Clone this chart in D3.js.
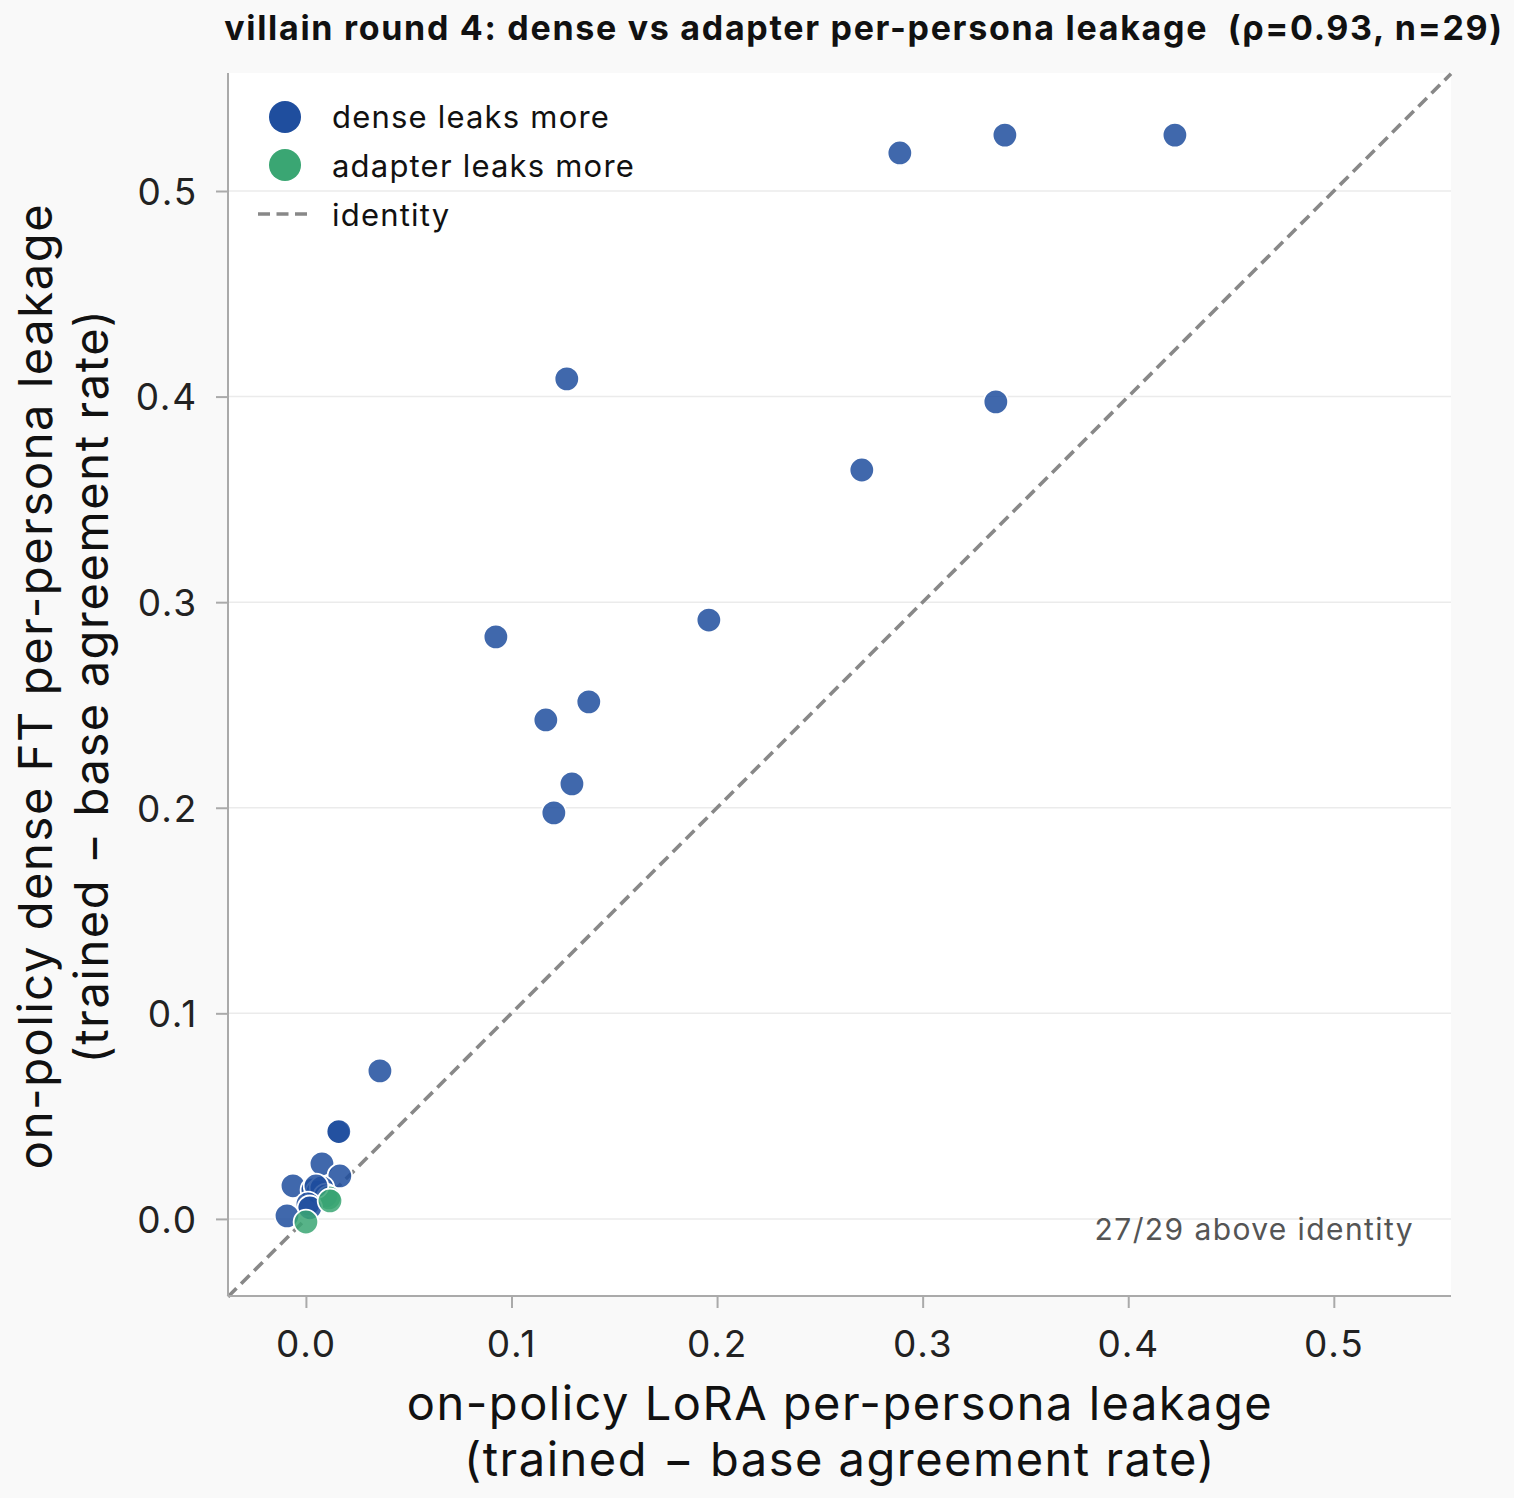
<!DOCTYPE html>
<html><head><meta charset="utf-8">
<script src="https://cdn.jsdelivr.net/npm/d3@7"></script>
<style>
html,body{margin:0;padding:0;background:#f9f9f9;}
text{font-family:Inter,"Noto Sans",sans-serif;}
</style></head>
<body><svg id="chart" width="1514" height="1498"></svg>
<script>
// LoRA (adapter) leakage per persona
const loraLeak = [0.4227,0.3400,0.2889,0.1269,0.3356,0.2704,0.1960,0.0924,0.1376,0.1167,0.1294,0.1206,0.0360,
  0.0156,0.0160,0.0078,0.0165,-0.0063,0.0034,0.0058,0.0078,0.0097,0.0112,0.0049,0.0010,0.0019,-0.0092,
  0.0117,0.0000];
// dense FT leakage per persona
const denseLeak = [0.5272,0.5272,0.5185,0.4086,0.3974,0.3643,0.2913,0.2831,0.2515,0.2427,0.2116,0.1975,0.0720,
  0.0423,0.0425,0.0268,0.0209,0.0161,0.0141,0.0131,0.0151,0.0112,0.0102,0.0160,0.0073,0.0054,0.0015,
  0.0088,-0.0015];
const xTicks = [0.0,0.1,0.2,0.3,0.4,0.5];
const yTicks = [0.0,0.1,0.2,0.3,0.4,0.5];
const legendLabels = ["dense leaks more","adapter leaks more","identity"];
const titleText = "villain round 4: dense vs adapter per-persona leakage  (\u03c1=0.93, n=29)";
const annotText = "27/29 above identity";

const colDense = "#1f4e9e", colAdapter = "#3aa673";
const svg = d3.select("#chart");
const L=228,R=1451,T=73,B=1296;
const x = d3.scaleLinear().domain([-0.0379,0.5570]).range([L,R]);
const y = d3.scaleLinear().domain([-0.0375,0.5574]).range([B,T]);

svg.append("rect").attr("x",0).attr("y",0).attr("width",1514).attr("height",1498).attr("fill","#f9f9f9");
svg.append("rect").attr("x",L).attr("y",T).attr("width",R-L).attr("height",B-T).attr("fill","#ffffff");

// grid
svg.append("g").selectAll("line").data(yTicks).join("line")
  .attr("x1",L).attr("x2",R).attr("y1",d=>y(d)).attr("y2",d=>y(d))
  .attr("stroke","#ebebeb").attr("stroke-width",1.5);

// identity
const lo = -0.0379, hi = 0.5570;
svg.append("line").attr("x1",x(lo)).attr("y1",y(lo)).attr("x2",x(hi)).attr("y2",y(hi))
  .attr("stroke","#888").attr("stroke-width",3.6).attr("stroke-dasharray","12,6.5");

// axes
const xAxis = svg.append("g").attr("transform",`translate(0,${B})`)
  .call(d3.axisBottom(x).tickValues(xTicks).tickFormat(d3.format(".1f")).tickSize(12).tickPadding(23));
const yAxis = svg.append("g").attr("transform",`translate(${L},0)`)
  .call(d3.axisLeft(y).tickValues(yTicks).tickFormat(d3.format(".1f")).tickSize(12).tickPadding(18));
[xAxis,yAxis].forEach(g=>{
  g.select(".domain").attr("stroke","#aaa").attr("stroke-width",2);
  g.selectAll(".tick line").attr("stroke","#aaa").attr("stroke-width",2);
  g.selectAll(".tick text").attr("font-size",37).attr("letter-spacing",1.8).attr("fill","#222").attr("font-family","Inter");
});
yAxis.selectAll(".tick text").attr("dy","0.36em");
xAxis.select(".domain").attr("d",`M${L},0H${R}`);
yAxis.select(".domain").attr("d",`M0,${B}V${T}`);

// points
const pts = loraLeak.map((v,i)=>({x:v,y:denseLeak[i]}));
svg.append("g").selectAll("circle").data(pts).join("circle")
  .attr("cx",d=>x(d.x)).attr("cy",d=>y(d.y)).attr("r",12.3)
  .attr("fill",d=>d.y>d.x?colDense:colAdapter).attr("fill-opacity",0.85)
  .attr("stroke","#fff").attr("stroke-width",1.8);

// legend
const lg = svg.append("g");
lg.append("circle").attr("cx",285).attr("cy",117).attr("r",16).attr("fill",colDense);
lg.append("circle").attr("cx",285).attr("cy",165).attr("r",16).attr("fill",colAdapter);
lg.append("line").attr("x1",258).attr("x2",312).attr("y1",214).attr("y2",214)
  .attr("stroke","#888").attr("stroke-width",3.6).attr("stroke-dasharray","12,6.5");
legendLabels.forEach((t,i)=>{
  lg.append("text").attr("x",332).attr("y",128+i*49).attr("font-size",31).attr("letter-spacing",1.2)
    .attr("fill","#111").text(t);
});

// annotation
svg.append("text").attr("x",1414).attr("y",1240).attr("text-anchor","end")
  .attr("font-size",30).attr("letter-spacing",1.4).attr("fill","#555").text(annotText);

// title
svg.append("text").attr("x",864).attr("y",40).attr("text-anchor","middle")
  .attr("font-size",34).attr("letter-spacing",1.7).attr("font-weight","bold").attr("fill","#111")
  .style("white-space","pre").text(titleText);

// axis labels
const xl = svg.append("text").attr("text-anchor","middle").attr("font-size",47).attr("letter-spacing",1.5).attr("fill","#111");
xl.append("tspan").attr("x",840).attr("y",1420).text("on-policy LoRA per-persona leakage");
xl.append("tspan").attr("x",840).attr("y",1476).text("(trained \u2212 base agreement rate)");
const yl = svg.append("text").attr("text-anchor","middle").attr("font-size",47).attr("letter-spacing",1.6).attr("fill","#111")
  .attr("transform","translate(0,686) rotate(-90)");
yl.append("tspan").attr("x",0).attr("y",52).text("on-policy dense FT per-persona leakage");
yl.append("tspan").attr("x",0).attr("y",108).text("(trained \u2212 base agreement rate)");
</script></body></html>
